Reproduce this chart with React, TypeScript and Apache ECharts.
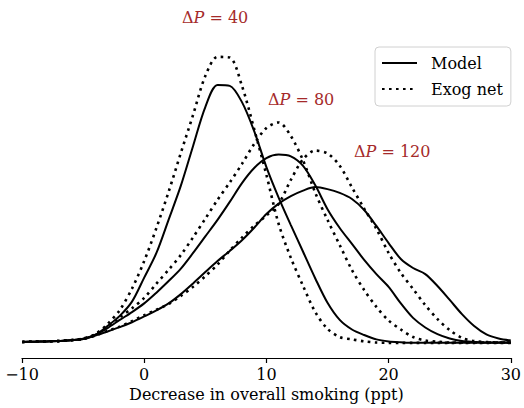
import React, { useEffect, useRef } from "react";
import * as echarts from "echarts";

const xs = [-10, -9, -8, -7, -6, -5, -4, -3, -2, -1, 0, 1, 2, 3, 4, 5, 6, 7, 8, 9, 10, 11, 12, 13, 14, 15, 16, 17, 18, 19, 20, 21, 22, 23, 24, 25, 26, 27, 28, 29, 30];

const model40 = [0.0007, 0.0008, 0.0009, 0.001, 0.0013, 0.0018, 0.0031, 0.0062, 0.0097, 0.0146, 0.0229, 0.0314, 0.0429, 0.0546, 0.0683, 0.0817, 0.0893, 0.089, 0.0834, 0.0734, 0.061, 0.0505, 0.041, 0.0318, 0.0226, 0.0142, 0.0083, 0.005, 0.0031, 0.0016, 0.0009, 0.0006, 0.0004, 0.0004, 0.0004, 0.0004, 0.0004, 0.0004, 0.0004, 0.0004, 0.0004];
const exog40 = [0.0007, 0.0008, 0.0009, 0.001, 0.0014, 0.0019, 0.0034, 0.0069, 0.0117, 0.0191, 0.0286, 0.04, 0.0525, 0.0659, 0.079, 0.0924, 0.099, 0.0988, 0.089, 0.0741, 0.0583, 0.0414, 0.0297, 0.02, 0.011, 0.0052, 0.0024, 0.0016, 0.0009, 0.0005, 0.0004, 0.0004, 0.0004, 0.0004, 0.0004, 0.0004, 0.0004, 0.0004, 0.0004, 0.0004, 0.0004];
const model80 = [0.0007, 0.0008, 0.0009, 0.001, 0.0013, 0.0017, 0.0032, 0.0055, 0.0083, 0.011, 0.014, 0.0177, 0.0217, 0.026, 0.0314, 0.0371, 0.0428, 0.049, 0.0555, 0.0607, 0.0641, 0.0653, 0.0647, 0.0614, 0.0547, 0.0465, 0.04, 0.0345, 0.029, 0.0241, 0.0197, 0.014, 0.009, 0.0057, 0.0034, 0.0019, 0.001, 0.0007, 0.0005, 0.0005, 0.0005];
const exog80 = [0.0007, 0.0008, 0.0009, 0.001, 0.0013, 0.0017, 0.0033, 0.006, 0.0092, 0.0123, 0.0159, 0.0208, 0.0256, 0.0307, 0.0368, 0.0432, 0.0497, 0.0557, 0.0621, 0.069, 0.0745, 0.0764, 0.0717, 0.0633, 0.0521, 0.0428, 0.0341, 0.0255, 0.0186, 0.0128, 0.0081, 0.005, 0.0024, 0.0012, 0.0008, 0.0005, 0.0005, 0.0005, 0.0005, 0.0005, 0.0005];
const model120 = [0.0007, 0.0008, 0.0009, 0.001, 0.0013, 0.0017, 0.0029, 0.0043, 0.0058, 0.0075, 0.0095, 0.0116, 0.014, 0.0172, 0.0209, 0.0248, 0.0286, 0.0321, 0.0358, 0.0401, 0.0448, 0.0484, 0.051, 0.0529, 0.0541, 0.0534, 0.0521, 0.05, 0.0462, 0.0407, 0.0348, 0.0293, 0.0262, 0.0241, 0.02, 0.0152, 0.0103, 0.0062, 0.0033, 0.0019, 0.0012];
const exog120 = [0.0007, 0.0008, 0.0009, 0.001, 0.0013, 0.0017, 0.0029, 0.0045, 0.006, 0.0079, 0.0099, 0.0118, 0.0138, 0.0166, 0.0197, 0.0234, 0.0274, 0.0322, 0.0367, 0.0408, 0.0443, 0.0483, 0.0566, 0.0637, 0.0667, 0.0657, 0.0615, 0.054, 0.0467, 0.0397, 0.0314, 0.0245, 0.019, 0.0134, 0.0086, 0.0048, 0.0021, 0.001, 0.0007, 0.0005, 0.0005];

const xTicks = [-10, 0, 10, 20, 30];
const legendNames = ["Model", "Exog net"];
const annotations = ["40", "80", "120"];

const FONT = "'DejaVu Serif', 'Liberation Serif', serif";
const RED = "#a52a2a";

export default function App() {
  const ref = useRef<HTMLDivElement>(null);
  useEffect(() => {
    document.body.style.margin = "0";
    const chart = echarts.init(ref.current!, null, { renderer: "svg" });
    const mk = (name: string, arr: number[], dotted: boolean) => ({
      name,
      type: "line",
      data: xs.map((x, i) => [x, arr[i]]),
      symbol: "none",
      smooth: 0.3,
      lineStyle: dotted
        ? { color: "#000", width: 2.6, type: [2.6, 4.4], cap: "butt" }
        : { color: "#000", width: 2 },
      itemStyle: { color: "#000" },
      z: dotted ? 3 : 2,
    });
    const ann = (t: string, x: number, y: number) => ({
      type: "text",
      x,
      y,
      style: {
        text: `{a|Δ}{b|P}{a| = ${t}}`,
        fill: RED,
        textAlign: "left",
        textVerticalAlign: "middle",
        rich: {
          a: { fontFamily: FONT, fontSize: 16, fill: RED },
          b: { fontFamily: FONT, fontSize: 16, fontStyle: "italic", fill: RED },
        },
      },
    });
    chart.setOption({
      animation: false,
      grid: { left: 22, right: 12, top: 10, bottom: 50 },
      xAxis: {
        type: "value",
        min: xTicks[0],
        max: xTicks[xTicks.length - 1],
        interval: 10,
        name: "Decrease in overall smoking (ppt)",
        nameLocation: "middle",
        nameGap: 24,
        nameTextStyle: { fontFamily: FONT, fontSize: 16, color: "#000" },
        axisLine: { onZero: false, lineStyle: { color: "#000", width: 1.2 } },
        axisTick: { length: 5, lineStyle: { color: "#000", width: 1.2 } },
        axisLabel: {
          margin: 8,
          fontFamily: FONT,
          fontSize: 16,
          color: "#000",
          formatter: (v: number) => (v < 0 ? "\u2212" + Math.abs(v) : String(v)),
        },
        splitLine: { show: false },
      },
      yAxis: { type: "value", min: -0.00483, max: 0.11517, show: false },
      legend: {
        orient: "vertical",
        left: 375,
        top: 47,
        data: legendNames,
        itemWidth: 35,
        itemHeight: 14,
        itemGap: 10,
        padding: [8, 8, 9, 6],
        borderColor: "#d0d0d0",
        borderWidth: 1,
        borderRadius: 4,
        backgroundColor: "#fff",
        itemStyle: { color: "transparent", borderWidth: 0, opacity: 0 },
        textStyle: { fontFamily: FONT, fontSize: 16, color: "#000", padding: [0, 0, 0, 9] },
      },
      series: [
        mk(legendNames[0], model40, false),
        mk(legendNames[1], exog40, true),
        mk(legendNames[0], model80, false),
        mk(legendNames[1], exog80, true),
        mk(legendNames[0], model120, false),
        mk(legendNames[1], exog120, true),
      ],
      graphic: [
        ann(annotations[0], 182, 17),
        ann(annotations[1], 268, 99),
        ann(annotations[2], 354, 151),
      ],
    });
    return () => chart.dispose();
  }, []);
  return <div ref={ref} style={{ width: 524, height: 408 }} />;
}
